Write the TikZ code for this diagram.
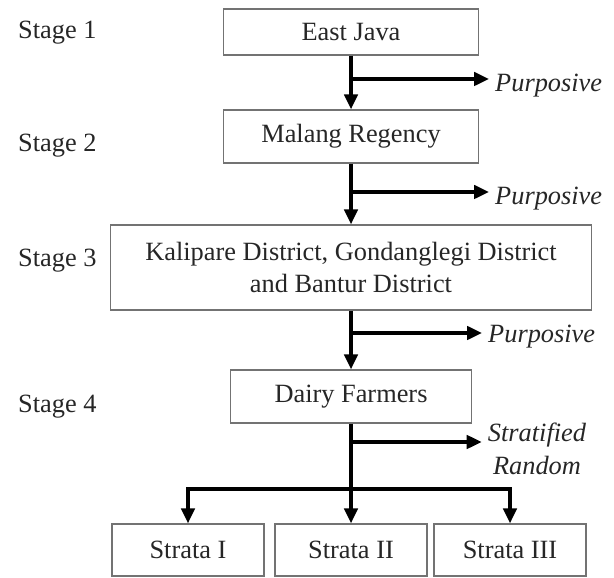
\documentclass[tikz,border=0pt]{standalone}
\usepackage{fontspec}
\setmainfont{Liberation Serif}
\usetikzlibrary{arrows.meta}
\begin{document}
\begin{tikzpicture}[
  font=\fontsize{15}{18.7}\selectfont,
  stagebox/.style={draw=black!55, line width=0.8pt, text=black!85, inner sep=0pt, align=center},
  label/.style={text=black!85},
  arr/.style={line width=1.8pt, -{Triangle[length=0.3cm,width=0.27cm]}},
  ln/.style={line width=1.8pt}]
	\useasboundingbox (0,0) rectangle (12.28,-11.56);
	\node [label, anchor=west] (st1) at (0.24,-0.66) {Stage 1};
	\node [label, anchor=west] (st2) at (0.24,-2.92) {Stage 2};
	\node [label, anchor=west] (st3) at (0.24,-5.22) {Stage 3};
	\node [label, anchor=west] (st4) at (0.24,-8.14) {Stage 4};
	\node [stagebox, minimum width=5.1cm, minimum height=0.92cm] (java) at (7.02,-0.64) {East Java};
	\node [stagebox, minimum width=5.1cm, minimum height=1.06cm] (malang) at (7.02,-2.73) {Malang Regency};
	\node [stagebox, minimum width=9.62cm, minimum height=1.7cm] (district) at (7.02,-5.35) {Kalipare District, Gondanglegi District\\and Bantur District};
	\node [stagebox, minimum width=4.82cm, minimum height=1.06cm] (dairy) at (7.02,-7.93) {Dairy Farmers};
	\node [stagebox, minimum width=3.04cm, minimum height=1.04cm] (s1) at (3.76,-11.0) {Strata I};
	\node [stagebox, minimum width=3.04cm, minimum height=1.04cm] (s2) at (7.02,-11.0) {Strata II};
	\node [stagebox, minimum width=3.04cm, minimum height=1.04cm] (s3) at (10.2,-11.0) {Strata III};
	\node [label, anchor=west] (p1) at (9.78,-1.72) {\emph{Purposive}};
	\node [label, anchor=west] (p2) at (9.78,-3.98) {\emph{Purposive}};
	\node [label, anchor=west] (p3) at (9.64,-6.74) {\emph{Purposive}};
	\node [label, align=center] (strat) at (10.74,-8.98) {\emph{Stratified}\\\emph{Random}};
	\coordinate (b1) at (7.02,-1.58);
	\coordinate (b2) at (7.02,-3.84);
	\coordinate (b3) at (7.02,-6.66);
	\coordinate (b4) at (7.02,-8.84);
	\coordinate (split) at (7.02,-9.78);
	\draw[arr] (java) -- (malang);
	\draw[arr] (b1) -- (b1 -| p1.west);
	\draw[arr] (malang) -- (district);
	\draw[arr] (b2) -- (b2 -| p2.west);
	\draw[arr] (district) -- (dairy);
	\draw[arr] (b3) -- (b3 -| p3.west);
	\draw[arr] (dairy) -- (s2);
	\draw[arr] (b4) -- (b4 -| strat.west);
	\draw[arr] (split) -| (s1.north);
	\draw[arr] (split) -| (s3.north);
\end{tikzpicture}
\end{document}
